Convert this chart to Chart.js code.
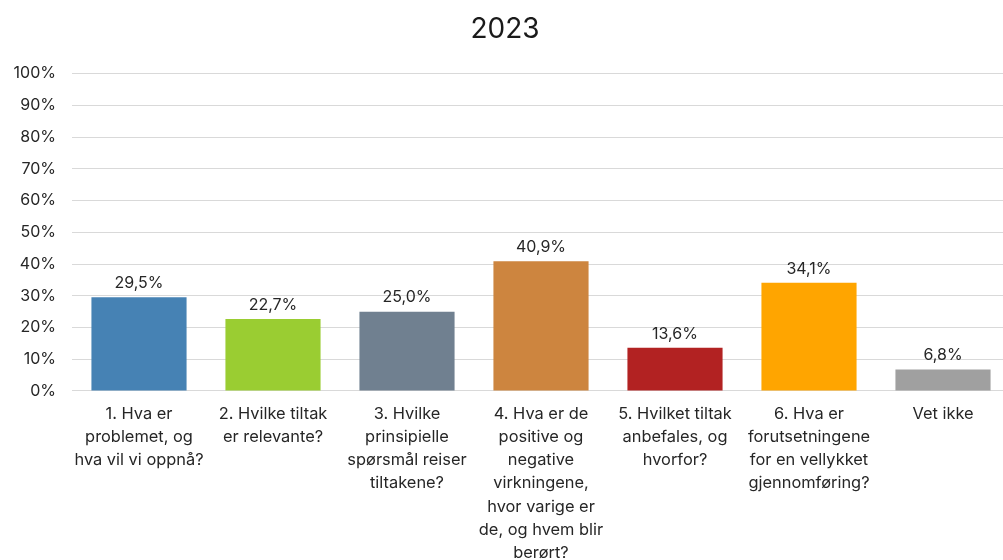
<!DOCTYPE html>
<html>
<head>
<meta charset="utf-8">
<script src="https://cdn.jsdelivr.net/npm/chart.js@4.4.0/dist/chart.umd.min.js"></script>
<style>
    html, body { margin: 0; padding: 0; background: #fff; overflow: hidden; }
    #wrap { width: 1026px; height: 576px; }
</style>
</head>
<body>
<div id="wrap"><canvas id="chart"></canvas></div>
<script>
// Survey answers, share of respondents in percent
const categories = [
    ['1. Hva er', 'problemet, og', 'hva vil vi oppnå?'],
    ['2. Hvilke tiltak', 'er relevante?'],
    ['3. Hvilke', 'prinsipielle', 'spørsmål reiser', 'tiltakene?'],
    ['4. Hva er de', 'positive og', 'negative', 'virkningene,', 'hvor varige er', 'de, og hvem blir', 'berørt?'],
    ['5. Hvilket tiltak', 'anbefales, og', 'hvorfor?'],
    ['6. Hva er', 'forutsetningene', 'for en vellykket', 'gjennomføring?'],
    ['Vet ikke']
];
const values = [29.5, 22.7, 25.0, 40.9, 13.6, 34.1, 6.8];
const barColors = ['#4682B4', '#9ACD32', '#708090', '#CD853F', '#B22222', '#FFA500', '#A0A0A0'];
const yTicks = [0, 10, 20, 30, 40, 50, 60, 70, 80, 90, 100];

const fontFamily = 'Inter, "Noto Sans", sans-serif';

// Value labels above each bar, Norwegian decimal comma
const valueLabels = {
    id: 'valueLabels',
    afterDatasetsDraw(chart) {
        const ctx = chart.ctx;
        const meta = chart.getDatasetMeta(0);
        ctx.save();
        ctx.font = '16px ' + fontFamily;
        ctx.fillStyle = '#262626';
        ctx.textAlign = 'center';
        ctx.textBaseline = 'bottom';
        meta.data.forEach((bar, i) => {
            const txt = values[i].toFixed(1).replace('.', ',') + '%';
            ctx.fillText(txt, bar.x, bar.y - 6);
        });
        ctx.restore();
    }
};

new Chart(document.getElementById('chart'), {
    type: 'bar',
    data: {
        labels: categories,
        datasets: [{
            data: values,
            backgroundColor: barColors,
            borderWidth: 0,
            barPercentage: 0.71,
            categoryPercentage: 1
        }]
    },
    options: {
        responsive: true,
        maintainAspectRatio: false,
        animation: false,
        layout: { padding: { left: 0, right: 16, top: 0, bottom: 0 } },
        plugins: {
            legend: { display: false },
            tooltip: { enabled: false },
            title: {
                display: true,
                text: '2023',
                color: '#1a1a1a',
                font: { family: fontFamily, size: 28, weight: 'normal' },
                padding: { top: 13, bottom: 27 }
            }
        },
        scales: {
            x: {
                grid: { display: false, drawTicks: false },
                border: { color: '#d9d9d9' },
                ticks: {
                    color: '#262626',
                    font: { family: fontFamily, size: 16.4, lineHeight: 1.42 },
                    padding: 11,
                    autoSkip: false,
                    maxRotation: 0
                }
            },
            y: {
                min: 0,
                max: 100,
                afterBuildTicks(scale) {
                    scale.ticks = yTicks.map(v => ({ value: v }));
                },
                afterFit(scale) { scale.width = 72; },
                grid: { color: '#d9d9d9', drawTicks: false },
                border: { display: false },
                ticks: {
                    color: '#262626',
                    font: { family: fontFamily, size: 16 },
                    padding: 16,
                    callback: v => v + '%'
                }
            }
        }
    },
    plugins: [valueLabels]
});
</script>
</body>
</html>
